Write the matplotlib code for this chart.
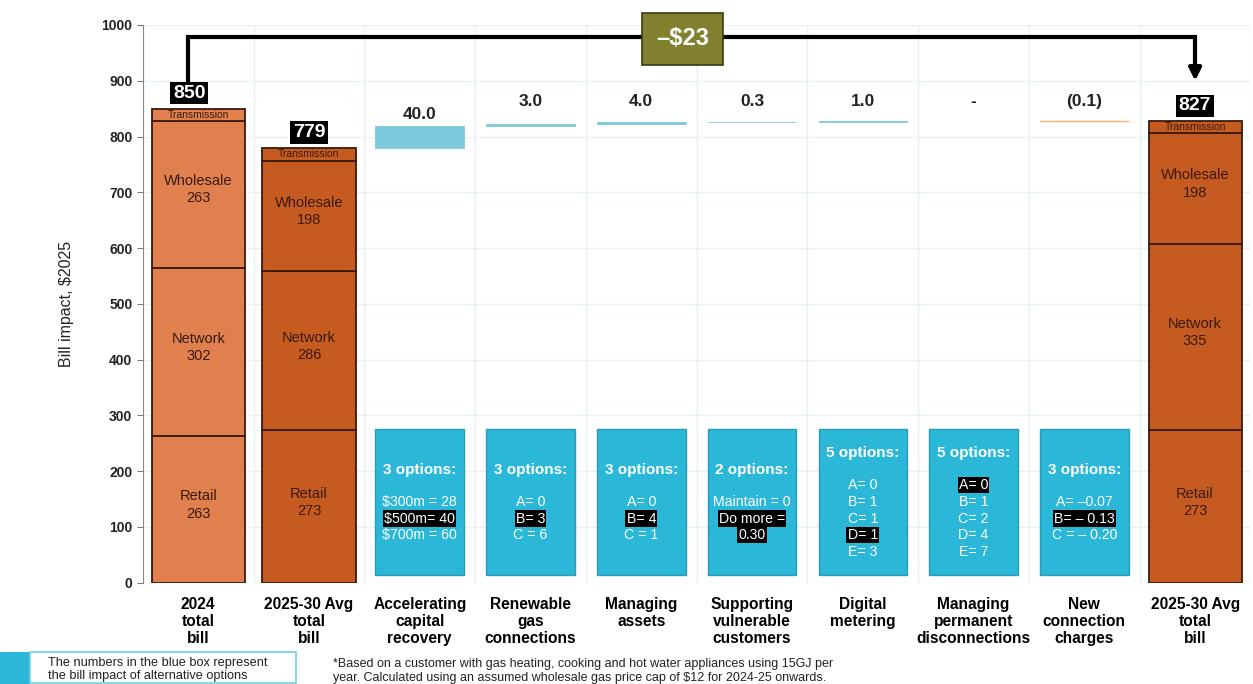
import matplotlib.pyplot as plt
import numpy as np

plt.rcParams['font.family'] = ['Liberation Sans', 'DejaVu Sans']

# stacked total bills
totals_names = ["2024\ntotal\nbill", "2025-30 Avg\ntotal\nbill", "2025-30 Avg\ntotal\nbill"]
retail = [263, 273, 273]
network = [302, 286, 335]
wholesale = [263, 198, 198]
transmission = [22, 22, 21]
total_labels = ["850", "779", "827"]

# step changes between the two averages
steps_names = ["Accelerating\ncapital\nrecovery", "Renewable\ngas\nconnections", "Managing\nassets",
               "Supporting\nvulnerable\ncustomers", "Digital\nmetering",
               "Managing\npermanent\ndisconnections", "New\nconnection\ncharges"]
steps = [40.0, 3.0, 4.0, 0.3, 1.0, 0.0, -0.1]
step_labels = ["40.0", "3.0", "4.0", "0.3", "1.0", "-", "(0.1)"]

# option boxes: title, lines, which lines are the chosen option
opt_titles = ["3 options:", "3 options:", "3 options:", "2 options:", "5 options:", "5 options:", "3 options:"]
opt_lines = [
    ["$300m = 28", "$500m= 40", "$700m = 60"],
    ["A= 0", "B= 3", "C = 6"],
    ["A= 0", "B= 4", "C = 1"],
    ["Maintain = 0", "Do more =", "0.30"],
    ["A= 0", "B= 1", "C= 1", "D= 1", "E= 3"],
    ["A= 0", "B= 1", "C= 2", "D= 4", "E= 7"],
    ["A= \u20130.07", "B= \u2013 0.13", "C = \u2013 0.20"],
]
opt_chosen = [[1], [1], [1], [1, 2], [3], [0], [1]]

change_label = "\u2013$23"

categories = [totals_names[0], totals_names[1]] + steps_names + [totals_names[2]]
x = np.arange(len(categories))

light_orange = "#E0804F"
dark_orange = "#C65B22"
edge = "#3A1A0C"
text_brown = "#3A1A0C"
cyan = "#2BB7D8"
step_blue = "#7DCADF"
neg_orange = "#F2B27A"

fig = plt.figure(figsize=(12.53, 6.84), dpi=100)
ax = fig.add_axes([0.114, 0.148, 0.884, 0.8155])

# stacked bars
bar_x = [0, 1, 9]
bar_colors = [light_orange, dark_orange, dark_orange]
w = 0.84
for i, xi in enumerate(bar_x):
    segs = [retail[i], network[i], wholesale[i], transmission[i]]
    names = ["Retail", "Network", "Wholesale", "Transmission"]
    bottom = 0
    for s, n in zip(segs, names):
        ax.bar(xi, s, bottom=bottom, width=w, color=bar_colors[i], edgecolor=edge, linewidth=1.3, zorder=3)
        if n == "Transmission":
            ax.text(xi, bottom + s / 2, n, ha='center', va='center', fontsize=7.5, color=text_brown, zorder=4)
        else:
            ax.text(xi, bottom + s / 2 + 8, f"{n}\n{s}", ha='center', va='center', fontsize=10.5,
                    color=text_brown, linespacing=1.3, zorder=4)
        bottom += s
    ax.text(xi - (0.08 if i == 0 else 0), bottom + 28, total_labels[i], ha='center', va='center',
            fontsize=14, fontweight='bold', color='white', zorder=5,
            bbox=dict(facecolor='black', edgecolor='none', pad=2))

# waterfall steps
level = sum([retail[1], network[1], wholesale[1], transmission[1]])
for j, v in enumerate(steps):
    xi = 2 + j
    base = level if v >= 0 else level + v
    if v != 0:
        col = step_blue if v > 0 else neg_orange
        ax.bar(xi, abs(v), bottom=base, width=0.8, color=col, edgecolor=col,
               linewidth=0.6 if v > 0 else 1.0, zorder=3)
    top = level + max(v, 0)
    label_y = top + 20 if abs(v) > 10 else 862
    ax.text(xi, label_y, step_labels[j], ha='center', va='center', fontsize=12.5, fontweight='bold',
            color='#222222', zorder=4)
    level += v

    # option box underneath
    ax.bar(xi, 262, bottom=14, width=0.8, color=cyan, edgecolor='#2A9CB8', linewidth=1.0, zorder=3)
    lines = opt_lines[j]
    n = len(lines)
    ys = [115 + 30 * ((n - 1) / 2 - k) for k in range(n)]
    ax.text(xi, ys[0] + 58, opt_titles[j], ha='center', va='center', fontsize=11, fontweight='bold',
            color='white', zorder=4)
    for k, (t, yy) in enumerate(zip(lines, ys)):
        if k in opt_chosen[j]:
            ax.text(xi, yy, t, ha='center', va='center', fontsize=10.2, color='white', zorder=5,
                    bbox=dict(facecolor='black', edgecolor='none', pad=0.8))
        else:
            ax.text(xi, yy, t, ha='center', va='center', fontsize=10.2, color='white', zorder=4)

# bracket from first total to last total
ax.plot([0 - 0.09, 0 - 0.09, 9.0, 9.0], [900, 978, 978, 915], color='black', linewidth=3,
        solid_joinstyle='miter', zorder=4, clip_on=False)
ax.annotate("", xy=(9.0, 895), xytext=(9.0, 925),
            arrowprops=dict(arrowstyle='-|>', color='black', lw=3, mutation_scale=18), zorder=4)
ax.text(4.37, 975, change_label, ha='center', va='center', fontsize=17, fontweight='bold', color='white',
        zorder=6, bbox=dict(facecolor='#80802E', edgecolor='#3C3C12', linewidth=1.2,
                            boxstyle='square,pad=0.6'))

ax.set_xlim(-0.5, 9.5)
ax.set_ylim(0, 1000)
ax.set_yticks(np.arange(0, 1001, 100))
ax.set_yticklabels([str(v) for v in range(0, 1001, 100)], fontweight='bold', fontsize=10)
ax.set_xticks(x)
ax.set_xticklabels(categories, fontweight='bold', fontsize=11.2, linespacing=1.17)
ax.tick_params(axis='x', length=0, pad=10)
ax.tick_params(axis='y', length=4, color='#777777', labelcolor='#222222')
ax.set_xticks(np.arange(-0.5, 9.6, 1), minor=True)
ax.grid(axis='y', color='#E6F2F4', linewidth=1, zorder=0)
ax.grid(axis='x', which='minor', color='#E6F2F4', linewidth=1, zorder=0)
ax.tick_params(axis='x', which='minor', length=0)
for s in ['top', 'right', 'bottom']:
    ax.spines[s].set_visible(False)
ax.spines['left'].set_color('#888888')
ax.set_ylabel("Bill impact, $2025", fontsize=11.5, color='#222222', labelpad=20)

# legend note in the lower left
fig.patches.append(plt.Rectangle((0.0, 0.0), 0.024, 0.047, transform=fig.transFigure,
                                 facecolor=cyan, edgecolor='none'))
fig.patches.append(plt.Rectangle((0.024, 0.001), 0.212, 0.046, transform=fig.transFigure,
                                 facecolor='white', edgecolor='#6FD0E6', linewidth=1.2))
fig.text(0.038, 0.021, "The numbers in the blue box represent\nthe bill impact of alternative options",
         fontsize=9.2, va='center', ha='left', color='#222222', linespacing=1.15)
fig.text(0.266, 0.019, "*Based on a customer with gas heating, cooking and hot water appliances using 15GJ per\n"
         "year. Calculated using an assumed wholesale gas price cap of $12 for 2024-25 onwards.",
         fontsize=9, va='center', ha='left', color='#222222', linespacing=1.15)

fig.savefig("out.png", dpi=100)
